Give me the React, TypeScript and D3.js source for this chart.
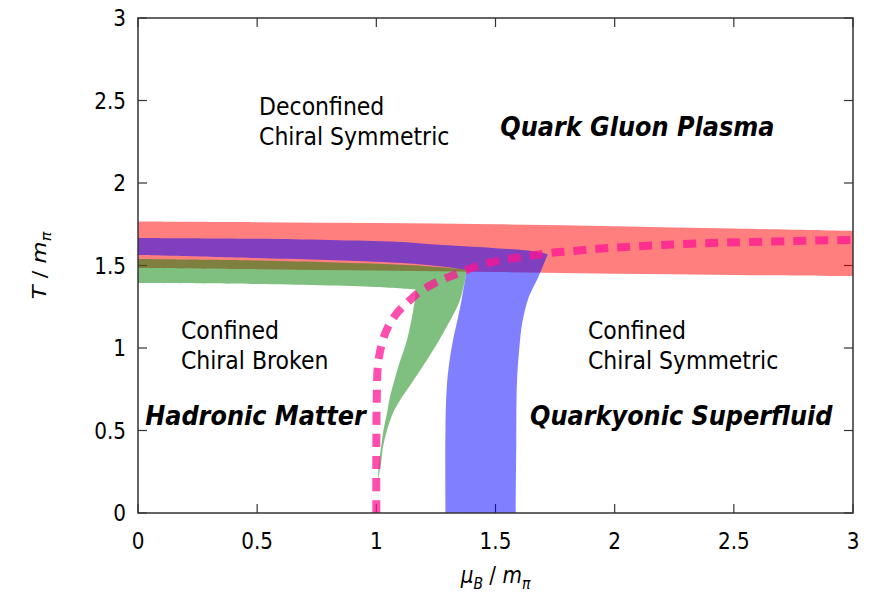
import * as d3 from "d3";

type P = [number, number];

const xTicks = [0, 0.5, 1, 1.5, 2, 2.5, 3];
const yTicks = [0, 0.5, 1, 1.5, 2, 2.5, 3];

// deconfinement band (red)
const redTop: P[] = [[0, 1.766], [0.5, 1.762], [1, 1.757], [1.5, 1.75], [2, 1.738], [2.5, 1.724], [3, 1.709]];
const redBottom: P[] = [[0, 1.485], [0.5, 1.478], [1, 1.47], [1.5, 1.46], [2, 1.45], [2.5, 1.443], [3, 1.436]];

// superfluid band (blue)
const blueTop: P[] = [
  [0, 1.667], [0.5, 1.662], [0.8, 1.655], [1.1, 1.643], [1.3, 1.622], [1.5, 1.605], [1.645, 1.59], [1.72, 1.57],
];
const blueRight: P[] = [
  [1.72, 1.57], [1.68, 1.43], [1.64, 1.31], [1.612, 1.15], [1.6, 1.0], [1.59, 0.79], [1.587, 0.4], [1.585, 0],
];
const blueLeft: P[] = [
  [1.29, 0], [1.29, 0.5], [1.295, 0.75], [1.305, 0.9], [1.322, 1.05], [1.345, 1.2], [1.36, 1.31], [1.38, 1.473],
];
const blueInner: P[] = [[1.38, 1.473], [1.3, 1.49], [1.2, 1.505], [1.0, 1.522], [0.5, 1.545], [0, 1.564]];

// chiral band (green)
const greenTop: P[] = [[0, 1.539], [0.5, 1.53], [1.0, 1.51], [1.2, 1.497], [1.38, 1.475]];
const greenRight: P[] = [
  [1.38, 1.475], [1.351, 1.291], [1.28, 1.09], [1.212, 0.927], [1.14, 0.77], [1.108, 0.703], [1.07, 0.606],
  [1.045, 0.503], [1.028, 0.4], [1.02, 0.303], [1.008, 0.2], [1.0, 0.06],
];
const greenLeft: P[] = [
  [1.0, 0.06], [1.006, 0.2], [1.011, 0.303], [1.02, 0.4], [1.03, 0.503], [1.045, 0.606], [1.057, 0.703],
  [1.075, 0.8], [1.095, 0.9], [1.129, 1.05], [1.155, 1.23], [1.165, 1.34],
];
const greenBottom: P[] = [[1.165, 1.355], [1.0, 1.37], [0.5, 1.388], [0, 1.394]];

// pink dashed line
const pinkLine: P[] = [
  [1.0, 0], [1.0, 0.4], [1.002, 0.7], [1.007, 0.9], [1.024, 1.03], [1.049, 1.127], [1.087, 1.212],
  [1.129, 1.273], [1.175, 1.333], [1.24, 1.39], [1.3, 1.428], [1.351, 1.457], [1.435, 1.503],
  [1.527, 1.533], [1.615, 1.552], [1.708, 1.572], [1.8, 1.585], [2.0, 1.608], [2.4, 1.636], [3.0, 1.655],
];

const plainLabels: { text: string; x: number; y: number }[] = [
  { text: "Deconfined", x: 0.508, y: 2.412 },
  { text: "Chiral Symmetric", x: 0.508, y: 2.23 },
  { text: "Confined", x: 0.18, y: 1.053 },
  { text: "Chiral Broken", x: 0.18, y: 0.875 },
  { text: "Confined", x: 1.888, y: 1.053 },
  { text: "Chiral Symmetric", x: 1.888, y: 0.875 },
];
const boldLabels: { text: string; x: number; y: number }[] = [
  { text: "Quark Gluon Plasma", x: 1.52, y: 2.285 },
  { text: "Hadronic Matter", x: 0.03, y: 0.533 },
  { text: "Quarkyonic Superfluid", x: 1.645, y: 0.533 },
];

export default function App() {
  const width = 873;
  const height = 593;
  const margin = { left: 138, right: 20, top: 18, bottom: 80 };
  const font = "DejaVu Sans, sans-serif";
  const stretch = 1.13; // text in the reference is a little taller than wide

  const x = d3.scaleLinear().domain([0, 3]).range([margin.left, width - margin.right]);
  const y = d3.scaleLinear().domain([0, 3]).range([height - margin.bottom, margin.top]);

  const curve = d3
    .line<P>()
    .x((d) => x(d[0]))
    .y((d) => y(d[1]))
    .curve(d3.curveCatmullRom.alpha(0.5));
  const straight = d3
    .line<P>()
    .x((d) => x(d[0]))
    .y((d) => y(d[1]));

  // join several edges into one closed outline
  const outline = (edges: P[][], smooth = true) =>
    edges
      .map((e, i) => {
        const d = (smooth ? curve(e) : straight(e)) ?? "";
        return i === 0 ? d : d.replace(/^M/, "L");
      })
      .join("") + "Z";

  const redPath = outline([redTop, [...redBottom].reverse()]);
  const bluePath = outline([blueTop, blueRight, blueLeft, blueInner]);
  const greenPath = outline([greenTop, greenRight, greenLeft, greenBottom]);

  const x0 = x(0), x1 = x(3), y0 = y(0), y1 = y(3);
  const tickLen = 9;
  const tr = (px: number, py: number) => `translate(${px},${py}) scale(1,${stretch})`;

  return (
    <svg
      width={width}
      height={height}
      style={{ position: "absolute", left: 0, top: 0, background: "white" }}
      fontFamily={font}
    >
      {/* ticks (mirrored) */}
      <g stroke="#333" strokeWidth={1.2}>
        {xTicks.map((t) => (
          <g key={"xt" + t}>
            <line x1={x(t)} x2={x(t)} y1={y0} y2={y0 - tickLen} />
            <line x1={x(t)} x2={x(t)} y1={y1} y2={y1 + tickLen} />
          </g>
        ))}
        {yTicks.map((t) => (
          <g key={"yt" + t}>
            <line x1={x0} x2={x0 + tickLen} y1={y(t)} y2={y(t)} />
            <line x1={x1} x2={x1 - tickLen} y1={y(t)} y2={y(t)} />
          </g>
        ))}
      </g>

      {/* bands */}
      <path d={redPath} fill="rgba(255,0,0,0.5)" />
      <path d={bluePath} fill="rgba(0,0,255,0.5)" />
      <path d={greenPath} fill="rgba(0,128,0,0.5)" />

      <path
        d={curve(pinkLine) ?? ""}
        fill="none"
        stroke="rgba(255,20,147,0.75)"
        strokeWidth={8}
        strokeDasharray="13 9"
      />

      {/* frame */}
      <rect x={x0} y={y1} width={x1 - x0} height={y0 - y1} fill="none" stroke="#333" strokeWidth={1.5} />

      {/* tick labels */}
      <g fontSize={20} fill="black">
        {xTicks.map((t) => (
          <text key={"xl" + t} transform={tr(x(t), y0 + 36)} textAnchor="middle">
            {d3.format("~g")(t)}
          </text>
        ))}
        {yTicks.map((t) => (
          <text key={"yl" + t} transform={tr(x0 - 12, y(t) + 8)} textAnchor="end">
            {d3.format("~g")(t)}
          </text>
        ))}
      </g>

      {/* axis titles */}
      <text transform={tr((x0 + x1) / 2, 583)} textAnchor="middle" fontSize={20}>
        <tspan fontStyle="italic">μ</tspan>
        <tspan fontStyle="italic" fontSize={14} dy={5}>B</tspan>
        <tspan dy={-5}> / </tspan>
        <tspan fontStyle="italic">m</tspan>
        <tspan fontStyle="italic" fontSize={14} dy={5}>π</tspan>
      </text>
      <text
        transform={`translate(46, ${(y0 + y1) / 2}) rotate(-90) scale(${stretch},1)`}
        textAnchor="middle"
        fontSize={20}
      >
        <tspan fontStyle="italic">T</tspan>
        <tspan> / </tspan>
        <tspan fontStyle="italic">m</tspan>
        <tspan fontStyle="italic" fontSize={14} dy={5}>π</tspan>
      </text>

      {/* region labels */}
      <g fontSize={22}>
        {plainLabels.map((l, i) => (
          <text key={"pl" + i} transform={tr(x(l.x), y(l.y))}>
            {l.text}
          </text>
        ))}
      </g>
      <g fontSize={24} fontWeight="bold" fontStyle="italic">
        {boldLabels.map((l, i) => (
          <text key={"bl" + i} transform={tr(x(l.x), y(l.y))}>
            {l.text}
          </text>
        ))}
      </g>
    </svg>
  );
}
